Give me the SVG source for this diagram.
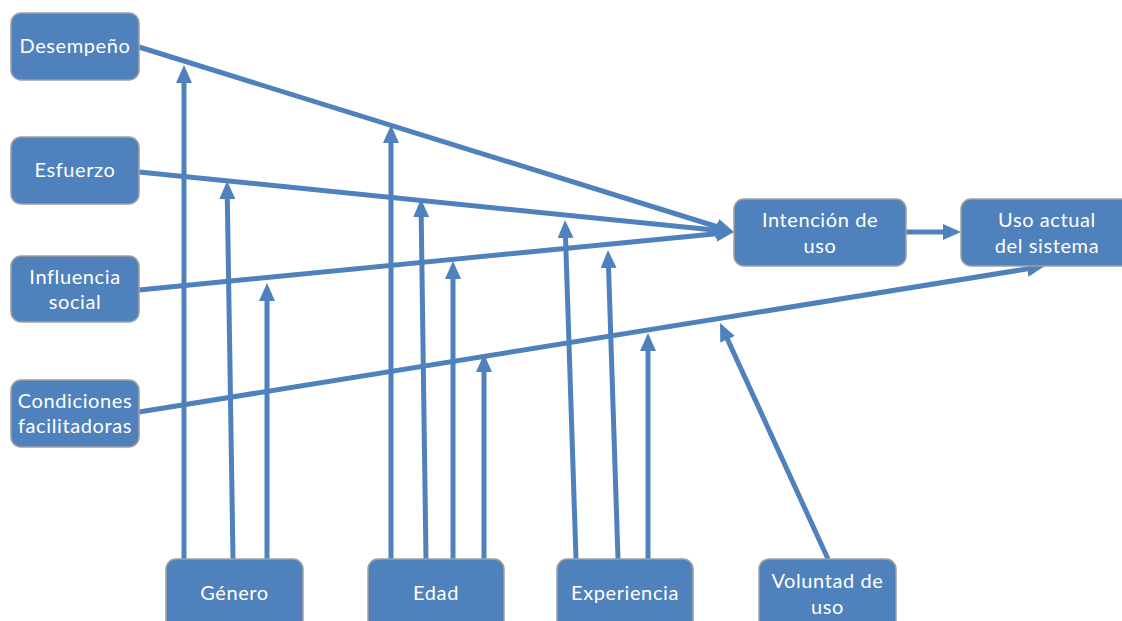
<svg xmlns="http://www.w3.org/2000/svg" width="1122" height="621" viewBox="0 0 1122 621">
  <defs>
    <marker id="arrow" markerUnits="userSpaceOnUse" markerWidth="18" markerHeight="16" viewBox="0 0 18 16" refX="8" refY="8" orient="auto">
      <path d="M0,0 L18,8 L0,16 z" fill="#4f81bd"/>
    </marker>
    <style>
      .box { fill: #4f81bd; stroke: #a0a0a0; stroke-width: 1.5; }
      .lbl { fill: #ffffff; font-family: Lato, "Open Sans", sans-serif; font-size: 20px; letter-spacing: 0.6px; text-anchor: middle; }
      .edge { stroke: #4f81bd; stroke-width: 5; fill: none; marker-end: url(#arrow); }
    </style>
  </defs>
  <rect width="1122" height="621" fill="#ffffff"/>

  <g id="connectors">
    <!-- determinants to intention -->
    <line class="edge" x1="139" y1="47" x2="724.4" y2="229"/>
    <line class="edge" x1="139" y1="172" x2="724" y2="231"/>
    <line class="edge" x1="139" y1="290" x2="724" y2="233"/>
    <!-- intention to use -->
    <line class="edge" x1="906" y1="232" x2="951" y2="232"/>
    <!-- facilitating conditions to use -->
    <line class="edge" x1="139" y1="412" x2="1035.1" y2="267.6"/>
    <!-- gender moderator -->
    <line class="edge" x1="184" y1="559" x2="184" y2="75"/>
    <line class="edge" x1="233" y1="559" x2="227.2" y2="191"/>
    <line class="edge" x1="267" y1="559" x2="267" y2="293"/>
    <!-- age moderator -->
    <line class="edge" x1="391" y1="559" x2="391" y2="135"/>
    <line class="edge" x1="426" y1="559" x2="421.1" y2="209"/>
    <line class="edge" x1="453" y1="559" x2="453" y2="271"/>
    <line class="edge" x1="484" y1="559" x2="484" y2="364"/>
    <!-- experience moderator -->
    <line class="edge" x1="576" y1="559" x2="565.3" y2="230"/>
    <line class="edge" x1="618" y1="559" x2="608.3" y2="260"/>
    <line class="edge" x1="648" y1="559" x2="648" y2="343"/>
    <!-- voluntariness moderator -->
    <line class="edge" x1="828" y1="559" x2="724.2" y2="332.1"/>
  </g>

  <g id="desempeno">
    <rect class="box" x="11" y="13" width="128" height="67" rx="10"/>
    <text class="lbl" x="75" y="53">Desempeño</text>
  </g>
  <g id="esfuerzo">
    <rect class="box" x="11" y="137" width="128" height="67" rx="10"/>
    <text class="lbl" x="75" y="177">Esfuerzo</text>
  </g>
  <g id="influencia">
    <rect class="box" x="11" y="256" width="128" height="66" rx="10"/>
    <text class="lbl" x="75" y="284">Influencia</text>
    <text class="lbl" x="75" y="309">social</text>
  </g>
  <g id="condiciones">
    <rect class="box" x="11" y="380" width="128" height="67" rx="10"/>
    <text class="lbl" x="75" y="408">Condiciones</text>
    <text class="lbl" x="75" y="433">facilitadoras</text>
  </g>
  <g id="intencion">
    <rect class="box" x="734" y="199" width="172" height="67" rx="10"/>
    <text class="lbl" x="820" y="227">Intención de</text>
    <text class="lbl" x="820" y="253">uso</text>
  </g>
  <g id="uso">
    <rect class="box" x="961" y="199" width="172" height="67" rx="10"/>
    <text class="lbl" x="1047" y="227">Uso actual</text>
    <text class="lbl" x="1047" y="253">del sistema</text>
  </g>
  <g id="genero">
    <rect class="box" x="166" y="559" width="137" height="80" rx="10"/>
    <text class="lbl" x="234.5" y="600">Género</text>
  </g>
  <g id="edad">
    <rect class="box" x="368" y="559" width="136" height="80" rx="10"/>
    <text class="lbl" x="436" y="600">Edad</text>
  </g>
  <g id="experiencia">
    <rect class="box" x="557" y="559" width="136" height="80" rx="10"/>
    <text class="lbl" x="625" y="600">Experiencia</text>
  </g>
  <g id="voluntad">
    <rect class="box" x="759" y="559" width="137" height="80" rx="10"/>
    <text class="lbl" x="827.5" y="588">Voluntad de</text>
    <text class="lbl" x="827.5" y="614">uso</text>
  </g>
</svg>
